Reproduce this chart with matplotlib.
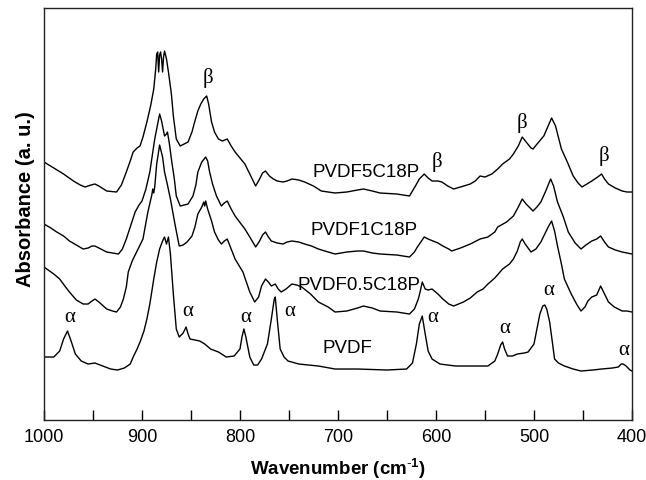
import matplotlib
matplotlib.use('Agg')
import matplotlib.pyplot as plt
from matplotlib.ticker import MultipleLocator

plt.rcParams['font.family'] = ['Liberation Sans', 'DejaVu Sans']
plt.rcParams['mathtext.fontset'] = 'custom'
plt.rcParams['mathtext.rm'] = 'Liberation Sans'
plt.rcParams['mathtext.bf'] = 'Liberation Sans:bold'

# FTIR spectra, stacked with offsets (arbitrary absorbance units)
wn_pvdf = [1000, 990, 984, 980, 976, 972, 968, 962, 955, 948, 940, 932, 925, 918, 912, 909, 905, 902,
           898, 895, 892, 888, 885, 882, 879, 877, 875, 873, 871, 868, 865, 862, 858, 855, 853, 851,
           846, 841, 836, 830, 822, 814, 806, 800, 798, 796, 794, 790, 786, 782, 778, 772, 768, 765,
           764, 762, 759, 755, 751, 740, 720, 703, 680, 650, 630, 624, 620, 617, 614, 611, 608, 604,
           596, 580, 560, 547, 540, 537, 534, 532, 530, 527, 522, 517, 510, 506, 500, 497, 494, 491,
           489, 487, 484, 481, 479, 475, 469, 460, 452, 440, 431, 420, 414, 411, 409, 406, 402, 400]
ab_pvdf = [63, 63, 69, 81, 89, 78, 66, 59, 56, 57, 54, 51, 50, 52, 56, 63, 71, 78,
           89, 101, 116, 141, 158, 171, 179, 183, 176, 183, 166, 126, 91, 83, 87, 93, 86, 81,
           80, 79, 76, 71, 68, 63, 64, 71, 83, 91, 83, 63, 55, 55, 61, 76, 101, 121,
           123, 101, 71, 63, 59, 56, 54, 51, 51, 50, 51, 57, 76, 96, 104, 86, 69, 61,
           56, 54, 54, 54, 59, 66, 75, 78, 71, 64, 64, 66, 67, 68, 76, 91, 106, 114,
           115, 111, 98, 76, 61, 57, 54, 51, 49, 50, 51, 52, 53, 56, 56, 54, 50, 49]

wn_05 = [1000, 990, 984, 978, 974, 967, 960, 955, 951, 948, 944, 936, 930, 926, 922, 919, 916, 914,
         910, 905, 899, 894, 890, 889, 888, 887, 885, 882, 879, 877, 874, 871, 866, 862, 858, 854,
         849, 846, 843, 839, 837, 836, 835, 833, 829, 826, 822, 819, 816, 813, 809, 805, 797, 790,
         785, 781, 778, 774, 771, 768, 766, 764, 761, 758, 753, 747, 742, 737, 728, 720, 710, 703,
         691, 680, 674, 665, 657, 640, 627, 622, 618, 616, 614, 611, 608, 604, 598, 593, 587, 582,
         577, 572, 565, 558, 552, 547, 540, 532, 525, 521, 517, 514, 512, 509, 503, 498, 493, 488,
         485, 482, 479, 476, 472, 469, 462, 456, 452, 448, 445, 441, 436, 432, 429, 424, 418, 410,
         405, 400]
ab_05 = [153, 146, 141, 133, 128, 120, 116, 116, 119, 121, 118, 111, 109, 108, 113, 121, 133, 148,
         159, 169, 181, 208, 225, 231, 227, 233, 256, 275, 263, 248, 235, 221, 194, 174, 175, 178,
         184, 193, 206, 213, 218, 214, 219, 211, 199, 188, 180, 176, 179, 181, 171, 161, 148, 128,
         118, 123, 134, 141, 138, 134, 135, 136, 131, 128, 131, 136, 135, 133, 126, 118, 113, 108,
         109, 112, 114, 112, 109, 108, 106, 111, 121, 129, 138, 131, 130, 131, 126, 121, 116, 114,
         116, 118, 122, 128, 131, 136, 142, 151, 156, 161, 169, 178, 181, 176, 168, 171, 178, 188,
         194, 199, 189, 174, 156, 141, 126, 115, 109, 113, 119, 123, 125, 134, 128, 118, 113, 109,
         109, 108]

wn_1 = [1000, 993, 987, 980, 974, 967, 960, 955, 951, 948, 944, 936, 930, 924, 920, 916, 912, 907,
        903, 900, 896, 892, 887, 884, 882, 880, 877, 875, 874, 872, 870, 867, 865, 861, 857, 853,
        848, 845, 843, 839, 835, 833, 831, 828, 824, 819, 816, 813, 809, 805, 795, 790, 784, 780,
        777, 774, 771, 768, 762, 756, 752, 747, 740, 734, 727, 720, 710, 703, 691, 680, 674, 665,
        657, 640, 627, 622, 619, 612, 608, 603, 598, 593, 587, 584, 575, 565, 555, 547, 540, 537,
        528, 521, 516, 512, 508, 501, 497, 493, 488, 483, 480, 476, 470, 465, 458, 452, 447, 441,
        436, 432, 428, 424, 417, 410, 405, 400]
ab_1 = [196, 192, 188, 184, 179, 175, 171, 172, 174, 174, 172, 168, 167, 166, 171, 181, 193, 208,
        215, 219, 231, 248, 281, 296, 306, 299, 284, 286, 288, 276, 261, 241, 224, 214, 215, 216,
        224, 235, 248, 258, 263, 259, 248, 236, 224, 214, 217, 219, 211, 204, 191, 183, 173, 179,
        185, 188, 183, 179, 177, 176, 178, 179, 178, 176, 174, 171, 168, 166, 168, 169, 169, 167,
        166, 165, 163, 168, 173, 183, 181, 179, 177, 174, 171, 169, 172, 176, 181, 183, 188, 193,
        198, 204, 213, 221, 216, 209, 213, 218, 229, 241, 234, 218, 203, 188, 177, 171, 175, 179,
        181, 184, 178, 173, 170, 168, 167, 166]

wn_5 = [1000, 990, 980, 970, 963, 958, 952, 948, 944, 936, 926, 921, 916, 912, 909, 905, 902, 899,
        895, 891, 888, 886, 885, 884, 883, 882, 881, 880, 879, 878, 877, 875, 873, 870, 868, 865,
        861, 857, 853, 849, 846, 843, 840, 837, 835, 834, 832, 829, 826, 822, 818, 813, 809, 805,
        800, 795, 790, 784, 780, 777, 774, 770, 766, 762, 756, 752, 747, 740, 734, 725, 717, 710,
        703, 691, 680, 674, 665, 657, 640, 627, 621, 617, 612, 608, 604, 598, 594, 588, 582, 575,
        565, 560, 555, 550, 543, 537, 532, 525, 521, 516, 512, 508, 503, 501, 496, 490, 486, 482,
        478, 472, 466, 460, 455, 451, 446, 441, 435, 431, 428, 424, 417, 410, 405, 400]
ab_5 = [258, 252, 246, 239, 235, 233, 235, 236, 234, 229, 228, 235, 248, 259, 268, 272, 274, 283,
        298, 315, 331, 351, 366, 368, 348, 365, 368, 361, 348, 363, 369, 361, 348, 326, 304, 281,
        274, 276, 278, 288, 299, 309, 316, 321, 323, 324, 316, 298, 288, 281, 279, 281, 274, 268,
        262, 256, 246, 234, 241, 247, 249, 244, 241, 239, 238, 239, 241, 240, 238, 234, 229, 228,
        227, 228, 230, 231, 229, 227, 226, 224, 234, 241, 246, 242, 239, 239, 238, 234, 231, 233,
        236, 239, 244, 243, 246, 251, 256, 261, 266, 274, 283, 278, 272, 271, 277, 284, 293, 302,
        294, 271, 258, 244, 237, 233, 236, 239, 243, 246, 241, 236, 232, 229, 228, 228]

# band assignments (wavenumber, height)
alpha_x = [974, 853.4, 794, 749.7, 603.4, 530.3, 485.4, 408]
alpha_y = [104, 110, 104, 110, 104, 93, 131, 71]
beta_x = [832.7, 599, 512.6, 428.6]
beta_y = [343, 259, 298, 265]

fig = plt.figure(figsize=(6.46, 4.81), dpi=100)
ax = fig.add_axes([0.0681, 0.1247, 0.9102, 0.8566])

for wn, ab in [(wn_pvdf, ab_pvdf), (wn_05, ab_05), (wn_1, ab_1), (wn_5, ab_5)]:
    ax.plot(wn, ab, color='black', linewidth=1.0)

ax.set_xlim(1000, 400)
ax.set_ylim(0, 412)
ax.xaxis.set_major_locator(MultipleLocator(100))
ax.xaxis.set_minor_locator(MultipleLocator(50))
ax.tick_params(axis='x', which='both', direction='in', length=7, width=1.0, labelsize=13, pad=6)
ax.set_yticks([])
for sp in ax.spines.values():
    sp.set_linewidth(1.0)
    sp.set_color('#222222')

ax.set_xlabel(r'Wavenumber (cm$^{\mathbf{\text{-}1}}$)', fontsize=13.5, fontweight='bold', labelpad=7)
ax.set_ylabel('Absorbance (a. u.)', fontsize=14.5, fontweight='bold')
ax.yaxis.set_label_coords(-0.016, 0.539)

ax.text(616.3, 249, 'PVDF5C18P', ha='right', va='center', fontsize=13.5)
ax.text(618.4, 191, 'PVDF1C18P', ha='right', va='center', fontsize=13.5)
ax.text(616.3, 136, 'PVDF0.5C18P', ha='right', va='center', fontsize=13.5)
ax.text(716.3, 73, 'PVDF', ha='left', va='center', fontsize=13.5)

for x, y in zip(alpha_x, alpha_y):
    ax.text(x, y, '\u03b1', ha='center', va='center', fontsize=15, family='Liberation Serif')
for x, y in zip(beta_x, beta_y):
    ax.text(x, y, '\u03b2', ha='center', va='center', fontsize=15, family='Liberation Serif')

fig.savefig('out.png', dpi=100)
plt.close(fig)
